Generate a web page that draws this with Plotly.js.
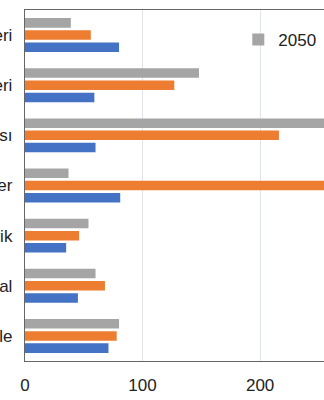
<!DOCTYPE html>
<html><head><meta charset="utf-8">
<script src="https://cdn.plot.ly/plotly-3.0.1.min.js"></script>
<style>html,body{margin:0;padding:0;overflow:hidden;background:#fff;width:324px;height:400px}</style>
</head><body><div id="chart"></div>
<script>
const labels = ["eri", "eri", "sı", "er", "rik", "al", "le"];
const positions = [0, 1, 2, 3, 4, 5, 6];
const seriesBlueName = "2020";
const seriesOrangeName = "2030";
const seriesGrayName = "2050";
const blueValues = [80, 59, 60, 81, 35, 45, 71];
const orangeValues = [56, 127, 216, 262, 46, 68, 78];
const grayValues = [39, 148, 268, 37, 54, 60, 80];
const xTicks = [0, 100, 200];

const font = "Liberation Sans, Arial, sans-serif";
const traces = [
  {type: "bar", orientation: "h", name: seriesGrayName, y: positions, x: grayValues, marker: {color: "#A5A5A5"}, showlegend: true},
  {type: "bar", orientation: "h", name: seriesOrangeName, y: positions, x: orangeValues, marker: {color: "#ED7D31"}, showlegend: false},
  {type: "bar", orientation: "h", name: seriesBlueName, y: positions, x: blueValues, marker: {color: "#4472C4"}, showlegend: false}
];
const layout = {
  width: 420, height: 400,
  margin: {l: 25, r: 0, t: 10, b: 39},
  paper_bgcolor: "#fff", plot_bgcolor: "#fff",
  barmode: "group", bargap: 0.27, bargroupgap: 0.22,
  font: {family: font, size: 17, color: "#222"},
  xaxis: {range: [0, 336], tickvals: xTicks, ticktext: xTicks.map(String), showgrid: true, gridcolor: "#dfe4ec", gridwidth: 1,
          zeroline: false, showline: true, linecolor: "#666", linewidth: 1.2, mirror: true, ticks: "", ticklabelstandoff: 8,
          tickfont: {family: font, size: 17, color: "#222"}},
  yaxis: {range: [6.5, -0.5], tickvals: positions, ticktext: labels, showgrid: false, zeroline: false, showline: true,
          linecolor: "#666", linewidth: 1.2, ticks: "", ticklabelstandoff: 8, tickfont: {family: font, size: 17, color: "#222"}},
  showlegend: true,
  legend: {x: 0.54, y: 0.915, xanchor: "left", yanchor: "middle", bgcolor: "rgba(0,0,0,0)", font: {family: font, size: 17, color: "#222"}}
};
Plotly.newPlot("chart", traces, layout, {displayModeBar: false, staticPlot: true});
</script></body></html>
